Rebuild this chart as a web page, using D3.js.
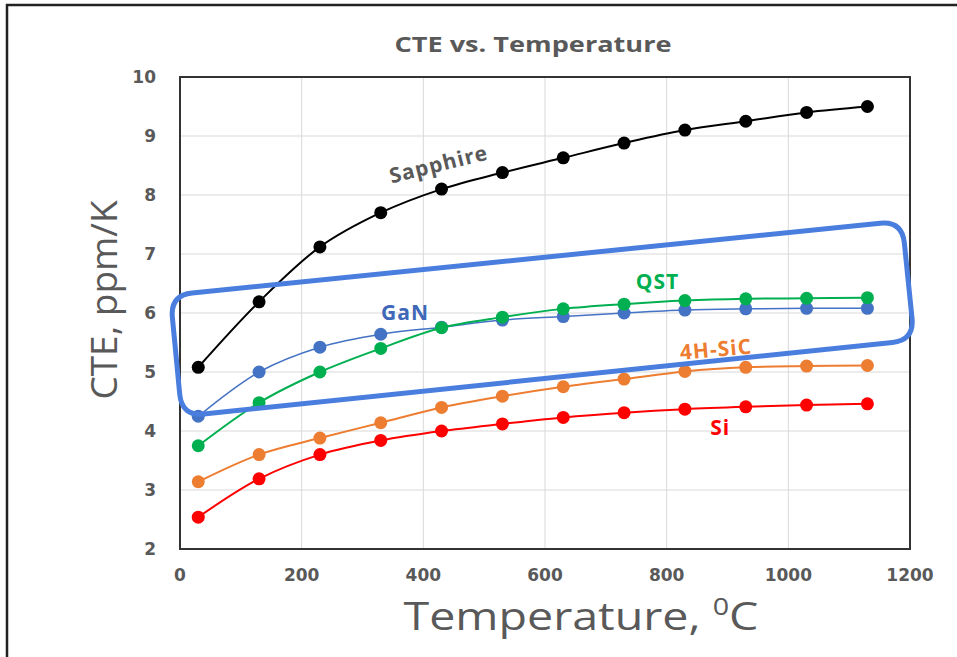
<!DOCTYPE html>
<html>
<head>
<meta charset="utf-8">
<script src="https://cdn.jsdelivr.net/npm/d3@7"></script>
<style>
  body { margin: 0; background: #fff; }
  svg text { fill: #595959; }
</style>
</head>
<body>
<div id="chart"></div>
<script>
// data
const temps = [30, 130, 230, 330, 430, 530, 630, 730, 830, 930, 1030, 1130];
const sapphire = [5.08, 6.19, 7.12, 7.7, 8.1, 8.38, 8.63, 8.88, 9.1, 9.25, 9.4, 9.5];
const gan = [4.25, 5.0, 5.42, 5.64, 5.76, 5.88, 5.94, 6.0, 6.05, 6.07, 6.08, 6.08];
const qst = [3.75, 4.48, 5.0, 5.4, 5.75, 5.93, 6.07, 6.15, 6.21, 6.24, 6.25, 6.26];
const sic = [3.14, 3.6, 3.88, 4.14, 4.4, 4.59, 4.75, 4.88, 5.01, 5.08, 5.1, 5.11];
const si = [2.54, 3.19, 3.6, 3.84, 4.0, 4.12, 4.23, 4.31, 4.37, 4.41, 4.44, 4.46];
const xTicks = [0, 200, 400, 600, 800, 1000, 1200];
const yTicks = [2, 3, 4, 5, 6, 7, 8, 9, 10];
// highlight box corners (temperature, CTE)
const boxCorners = [[-16, 6.3], [1187, 7.56], [1207, 5.54], [3, 4.25]];

const series = [
  { name: "Sapphire", values: sapphire, color: "#000000", width: 2 },
  { name: "GaN", values: gan, color: "#4472C4", width: 1.5 },
  { name: "QST", values: qst, color: "#00B050", width: 2 },
  { name: "4H-SiC", values: sic, color: "#ED7D31", width: 2 },
  { name: "Si", values: si, color: "#FF0000", width: 2 }
];

const width = 957, height = 657;
const margin = { left: 180, right: 47, top: 77, bottom: 108 };

const x = d3.scaleLinear().domain([0, 1200]).range([margin.left, width - margin.right]);
const y = d3.scaleLinear().domain([2, 10]).range([height - margin.bottom, margin.top]);

const svg = d3.select("#chart").append("svg")
    .attr("width", width)
    .attr("height", height);

// outer frame
svg.append("rect")
    .attr("x", 7).attr("y", 5)
    .attr("width", 960).attr("height", 660)
    .attr("fill", "none")
    .attr("stroke", "#222")
    .attr("stroke-width", 2.5);

svg.append("text")
    .attr("x", 533).attr("y", 52)
    .attr("text-anchor", "middle")
    .attr("textLength", 277)
    .attr("lengthAdjust", "spacingAndGlyphs")
    .style("font-family", "Open Sans")
    .style("font-weight", "bold")
    .style("font-size", "21px")
    .text("CTE vs. Temperature");

// grid
svg.append("g").selectAll("line")
    .data(xTicks.slice(1, -1))
    .enter().append("line")
    .attr("x1", d => x(d)).attr("x2", d => x(d))
    .attr("y1", y(2)).attr("y2", y(10))
    .attr("stroke", "#d9d9d9").attr("stroke-width", 1);

svg.append("g").selectAll("line")
    .data(yTicks.slice(1, -1))
    .enter().append("line")
    .attr("y1", d => y(d)).attr("y2", d => y(d))
    .attr("x1", x(0)).attr("x2", x(1200))
    .attr("stroke", "#d9d9d9").attr("stroke-width", 1);

svg.append("rect")
    .attr("x", x(0)).attr("y", y(10))
    .attr("width", x(1200) - x(0)).attr("height", y(2) - y(10))
    .attr("fill", "none")
    .attr("stroke", "#333")
    .attr("stroke-width", 2);

// tick labels
svg.append("g").selectAll("text")
    .data(yTicks)
    .enter().append("text")
    .attr("x", x(0) - 24)
    .attr("y", d => y(d) + 6)
    .attr("text-anchor", "end")
    .style("font-family", "DejaVu Sans")
    .style("font-weight", "bold")
    .style("font-size", "17px")
    .text(d => d);

svg.append("g").selectAll("text")
    .data(xTicks)
    .enter().append("text")
    .attr("x", d => x(d))
    .attr("y", y(2) + 32)
    .attr("text-anchor", "middle")
    .style("font-family", "DejaVu Sans")
    .style("font-weight", "bold")
    .style("font-size", "17px")
    .text(d => d);

// axis titles
svg.append("text")
    .attr("transform", "translate(117,300)rotate(-90)")
    .attr("text-anchor", "middle")
    .style("font-family", "Open Sans")
    .style("font-size", "37px")
    .text("CTE, ppm/K");

const xt = svg.append("text")
    .attr("x", 581).attr("y", 630)
    .attr("text-anchor", "middle")
    .attr("textLength", 355)
    .attr("lengthAdjust", "spacingAndGlyphs")
    .style("font-family", "Open Sans")
    .style("font-size", "39px");
xt.append("tspan").text("Temperature, ");
xt.append("tspan").attr("dy", -15).style("font-size", "24px").text("0");
xt.append("tspan").attr("dy", 15).text("C");

// series
const line = d3.line()
    .x((d, i) => x(temps[i]))
    .y(d => y(d))
    .curve(d3.curveCatmullRom);

series.forEach(s => {
  const g = svg.append("g");
  g.append("path")
      .attr("d", line(s.values))
      .attr("fill", "none")
      .attr("stroke", s.color)
      .attr("stroke-width", s.width);
  g.selectAll("circle")
      .data(s.values)
      .enter().append("circle")
      .attr("cx", (d, i) => x(temps[i]))
      .attr("cy", d => y(d))
      .attr("r", 6.5)
      .attr("fill", s.color);
});

// series labels
const labels = [
  { text: "Sapphire", t: 428, v: 8.4, rot: -14, color: "#595959" },
  { text: "GaN", t: 370, v: 5.88, rot: 0, color: "#4068B8" },
  { text: "QST", t: 785, v: 6.4, rot: 0, color: "#00B050" },
  { text: "4H-SiC", t: 882, v: 5.26, rot: -5, color: "#ED7D31" },
  { text: "Si", t: 888, v: 3.94, rot: 0, color: "#FF0000" }
];
svg.append("g").selectAll("text")
    .data(labels)
    .enter().append("text")
    .attr("transform", d => "translate(" + x(d.t) + "," + y(d.v) + ")rotate(" + d.rot + ")")
    .attr("text-anchor", "middle")
    .style("font-family", "Open Sans")
    .style("font-weight", "bold")
    .style("font-size", "21px")
    .style("letter-spacing", "1px")
    .style("fill", d => d.color)
    .text(d => d.text);

// highlight box: rounded polygon
function roundedPath(pts, r) {
  const n = pts.length;
  let p = "";
  for (let i = 0; i < n; i++) {
    const prev = pts[(i - 1 + n) % n], cur = pts[i], next = pts[(i + 1) % n];
    const d1 = Math.hypot(prev[0] - cur[0], prev[1] - cur[1]);
    const d2 = Math.hypot(next[0] - cur[0], next[1] - cur[1]);
    const a = [cur[0] + (prev[0] - cur[0]) * r / d1, cur[1] + (prev[1] - cur[1]) * r / d1];
    const b = [cur[0] + (next[0] - cur[0]) * r / d2, cur[1] + (next[1] - cur[1]) * r / d2];
    p += (i === 0 ? "M" : "L") + a[0] + "," + a[1] + "Q" + cur[0] + "," + cur[1] + " " + b[0] + "," + b[1];
  }
  return p + "Z";
}
svg.append("path")
    .attr("d", roundedPath(boxCorners.map(c => [x(c[0]), y(c[1])]), 22))
    .attr("fill", "none")
    .attr("stroke", "#4a7ede")
    .attr("stroke-width", 5);
</script>
</body>
</html>
